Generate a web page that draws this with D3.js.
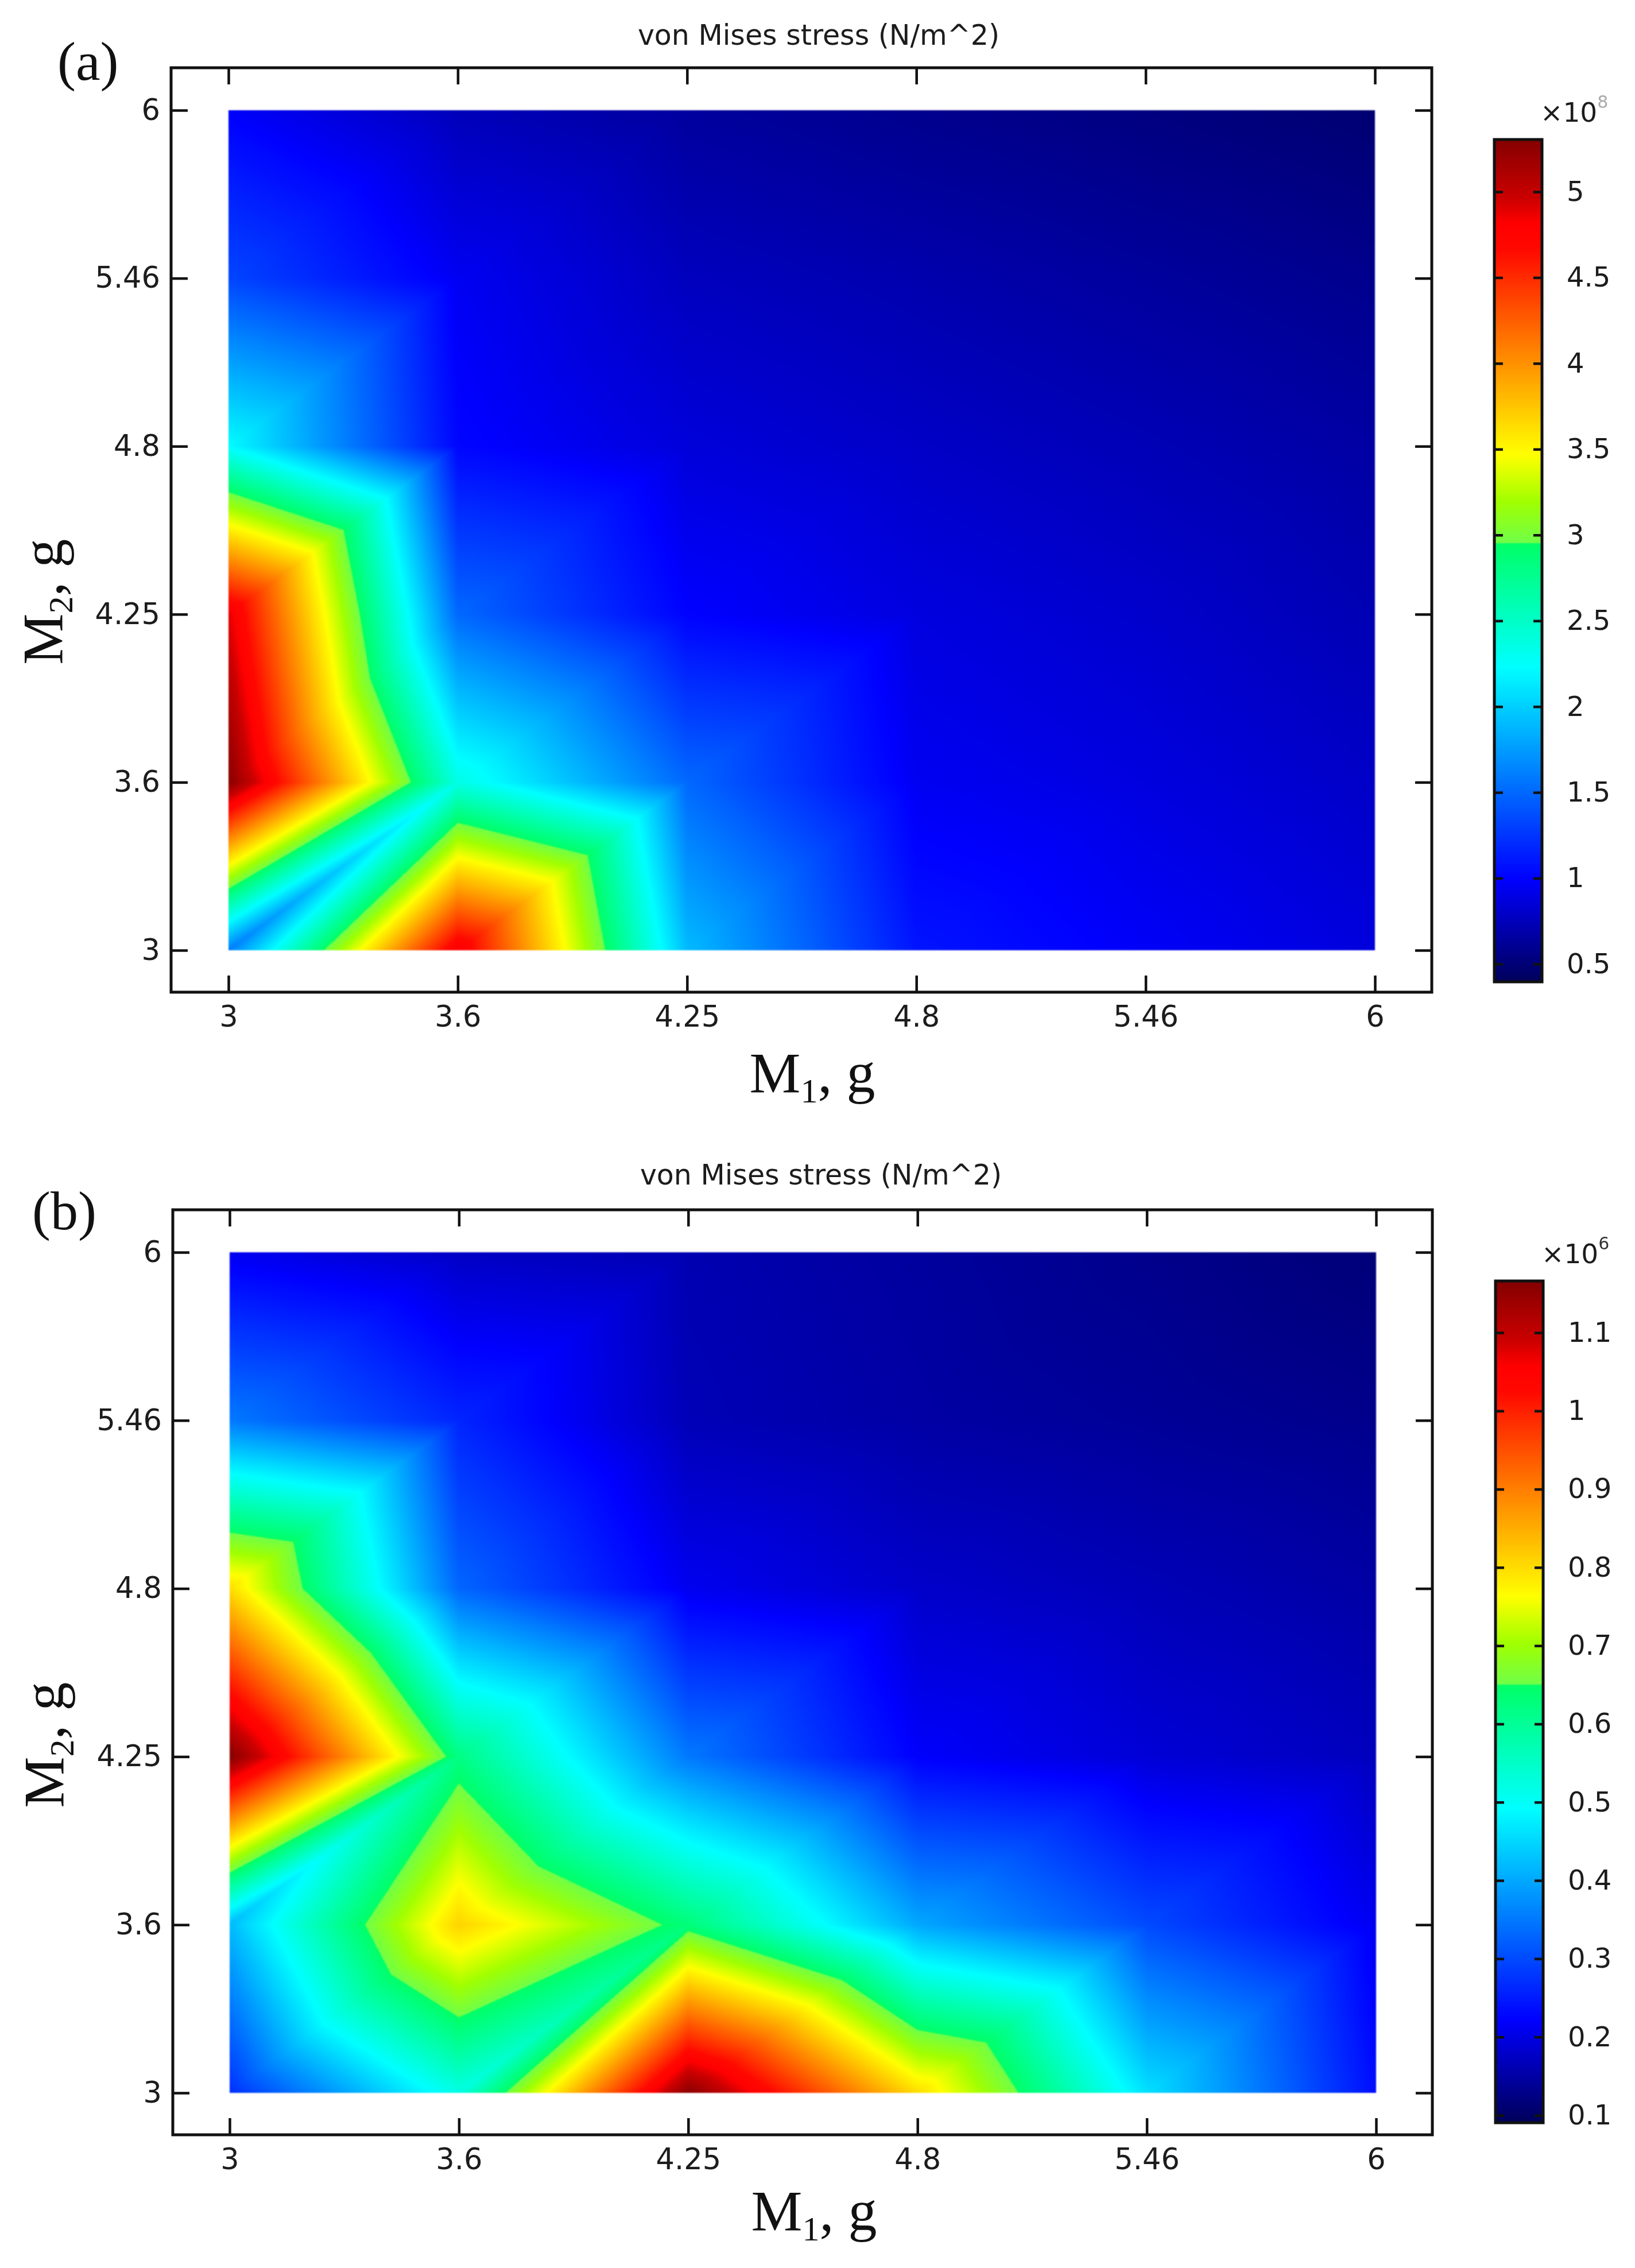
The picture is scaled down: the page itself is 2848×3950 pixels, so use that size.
<!DOCTYPE html>
<html>
<head>
<meta charset="utf-8">
<title>von Mises stress</title>
<script src="https://cdn.jsdelivr.net/npm/d3@7"></script>
<style>
  html, body { margin: 0; padding: 0; background: #fff; }
  #stage { position: relative; width: 2848px; height: 3950px; overflow: hidden; }
  canvas, svg { position: absolute; left: 0; top: 0; }
  canvas { filter: blur(1px); }
  svg { filter: blur(0.6px); }
  .tick text { font-family: "DejaVu Sans", sans-serif; font-size: 51px; fill: #1c1c1c; }
  .bar-axis .tick text { font-size: 48px; }
  .tick line { stroke: #111; stroke-width: 4.5px; }
</style>
</head>
<body>
<div id="stage">
  <canvas id="heat" width="2848" height="3950"></canvas>
  <svg id="chart" width="2848" height="3950"></svg>
</div>
<script>
const massLabels = ["3", "3.6", "4.25", "4.8", "5.46", "6"];
const chartTitle = "von Mises stress (N/m^2)";

// rows run from M2 = 3 up to M2 = 6, columns M1 = 3 to 6 (x 10^8)
const stressA = [
  [1.60, 4.85, 1.90, 1.09, 0.97, 0.87],
  [5.30, 2.35, 1.50, 0.95, 0.88, 0.79],
  [4.90, 1.50, 1.00, 0.88, 0.81, 0.72],
  [2.22, 1.02, 0.86, 0.79, 0.73, 0.66],
  [1.33, 0.95, 0.76, 0.70, 0.64, 0.58],
  [0.98, 0.74, 0.64, 0.58, 0.53, 0.48]
];

// same layout (x 10^6)
const stressB = [
  [0.27, 0.52, 1.16, 0.80, 0.46, 0.235],
  [0.42, 0.81, 0.63, 0.40, 0.30, 0.21],
  [1.165, 0.62, 0.35, 0.22, 0.19, 0.17],
  [0.80, 0.33, 0.21, 0.18, 0.165, 0.15],
  [0.35, 0.26, 0.165, 0.15, 0.14, 0.13],
  [0.21, 0.175, 0.16, 0.145, 0.13, 0.115]
];

const barTicksA = [5, 4.5, 4, 3.5, 3, 2.5, 2, 1.5, 1, 0.5];
const barTicksB = [1.1, 1, 0.9, 0.8, 0.7, 0.6, 0.5, 0.4, 0.3, 0.2, 0.1];

// rainbow colour table of the legend, it has a small step just under yellow-green
const rampStops = [0, 0.122, 0.374, 0.521, 0.5211, 0.57, 0.626, 0.87, 0.90, 0.93, 1];
const rampColors = ["#00005a", "#0000ff", "#00ffff", "#00ff66", "#70ff48", "#a0ff00", "#ffff00", "#ff0800", "#ff0000", "#cc0000", "#850000"];

const panels = [
  {
    values: stressA, letter: "(a)", exponent: "8", expColor: "#aaa", barDomain: [0.396, 5.304], barTicks: barTicksA,
    frame: { x0: 298, x1: 2494, y0: 118, y1: 1728 },
    heat: { x0: 398, x1: 2395, y0: 192, y1: 1655 },
    bar: { x0: 2603, x1: 2686, y0: 243, y1: 1710, zeroAt: 1679, oneAt: 334, from: 0.5, to: 5 },
    titleX: 1426, titleY: 78, letterX: 100, letterY: 139,
    xLabelX: 1415, xLabelY: 1902, yLabelX: 108, yLabelY: 1048, expY: 212
  },
  {
    values: stressB, letter: "(b)", exponent: "6", expColor: "#333", barDomain: [0.091, 1.1645], barTicks: barTicksB,
    frame: { x0: 301, x1: 2495, y0: 2107, y1: 3718 },
    heat: { x0: 400, x1: 2397, y0: 2181, y1: 3645 },
    bar: { x0: 2605, x1: 2688, y0: 2231, y1: 3697, zeroAt: 3684, oneAt: 2321, from: 0.1, to: 1.1 },
    titleX: 1430, titleY: 2063, letterX: 56, letterY: 2141,
    xLabelX: 1418, xLabelY: 3884, yLabelX: 110, yLabelY: 3039, expY: 2200
  }
];

const svg = d3.select("#chart");
const ctx = document.getElementById("heat").getContext("2d");
ctx.fillStyle = "#fff";
ctx.fillRect(0, 0, 2848, 3950);

const rampScale = d3.scaleLinear().domain(rampStops).range(rampColors).clamp(true);
const rampLut = d3.range(2048).map(i => d3.rgb(rampScale(i / 2047)));

const putPixels = (box, valueAt) => {
  const w = box.x1 - box.x0;
  const h = box.y1 - box.y0;
  const image = ctx.createImageData(w, h);
  let p = 0;
  for (let py = 0; py < h; py++) {
    for (let px = 0; px < w; px++) {
      const c = rampLut[valueAt(box.x0 + px + 0.5, box.y0 + py + 0.5)];
      image.data[p++] = c.r;
      image.data[p++] = c.g;
      image.data[p++] = c.b;
      image.data[p++] = 255;
    }
  }
  ctx.putImageData(image, box.x0, box.y0);
};

const drawPanel = (panel) => {
  const { frame, heat, bar, values } = panel;

  const x = d3.scalePoint().domain(massLabels).range([heat.x0, heat.x1]);
  const y = d3.scalePoint().domain(massLabels).range([heat.y1, heat.y0]);
  const last = massLabels.length - 2;
  const norm = d3.scaleLinear().domain(panel.barDomain).range([0, 2047]).clamp(true);

  // every grid cell is split along its rising diagonal, linear inside each triangle
  putPixels(heat, (px, py) => {
    const u = (px - x(massLabels[0])) / x.step();
    const v = (y(massLabels[0]) - py) / y.step();
    const i = Math.max(0, Math.min(last, Math.floor(u)));
    const j = Math.max(0, Math.min(last, Math.floor(v)));
    const fu = u - i;
    const fv = v - j;
    const a = values[j][i];
    const b = values[j][i + 1];
    const c = values[j + 1][i];
    const d = values[j + 1][i + 1];
    const val = fu >= fv
      ? a + fu * (b - a) + fv * (d - b)
      : a + fv * (c - a) + fu * (d - c);
    return Math.round(norm(val));
  });

  const barScale = d3.scaleLinear()
    .domain([bar.from, bar.to])
    .range([bar.zeroAt, bar.oneAt]);

  putPixels(bar, (_, py) => Math.round(norm(barScale.invert(py))));

  const g = svg.append("g");

  const addAxis = (axis, tx, ty) => {
    const a = g.append("g").attr("transform", `translate(${tx},${ty})`).call(axis);
    a.select(".domain").remove();
    return a;
  };

  const inward = 29;
  addAxis(d3.axisBottom(x).tickSizeInner(-inward).tickSizeOuter(0).tickPadding(24), 0, frame.y1);
  addAxis(d3.axisTop(x).tickSizeInner(-inward).tickSizeOuter(0).tickFormat(""), 0, frame.y0);
  addAxis(d3.axisLeft(y).tickSizeInner(-inward).tickSizeOuter(0).tickPadding(19), frame.x0, 0);
  addAxis(d3.axisRight(y).tickSizeInner(-inward).tickSizeOuter(0).tickFormat(""), frame.x1, 0);

  g.append("rect")
    .attr("x", frame.x0)
    .attr("y", frame.y0)
    .attr("width", frame.x1 - frame.x0)
    .attr("height", frame.y1 - frame.y0)
    .attr("fill", "none")
    .attr("stroke", "#111")
    .attr("stroke-width", 5);

  addAxis(
    d3.axisRight(barScale).tickValues(panel.barTicks).tickFormat(d => String(d)).tickSizeInner(-15).tickSizeOuter(0).tickPadding(43),
    bar.x1, 0
  ).attr("class", "bar-axis");
  addAxis(
    d3.axisLeft(barScale).tickValues(panel.barTicks).tickFormat("").tickSizeInner(-15).tickSizeOuter(0),
    bar.x0, 0
  );

  g.append("rect")
    .attr("x", bar.x0)
    .attr("y", bar.y0)
    .attr("width", bar.x1 - bar.x0)
    .attr("height", bar.y1 - bar.y0)
    .attr("fill", "none")
    .attr("stroke", "#111")
    .attr("stroke-width", 5);

  const exp = g.append("text")
    .attr("x", bar.x1 - 3)
    .attr("y", panel.expY)
    .style("font-family", "'DejaVu Sans', sans-serif")
    .style("font-size", "47px")
    .attr("fill", "#1c1c1c");
  exp.append("tspan").text("×10");
  exp.append("tspan")
    .attr("dy", -24)
    .style("font-size", "30px")
    .attr("fill", panel.expColor)
    .text(panel.exponent);

  g.append("text")
    .attr("x", panel.titleX)
    .attr("y", panel.titleY)
    .attr("text-anchor", "middle")
    .style("font-family", "'DejaVu Sans', sans-serif")
    .style("font-size", "49px")
    .attr("fill", "#1c1c1c")
    .text(chartTitle);

  g.append("text")
    .attr("x", panel.letterX)
    .attr("y", panel.letterY)
    .style("font-family", "'Liberation Serif', serif")
    .style("font-size", "96px")
    .attr("fill", "#111")
    .text(panel.letter);

  const massLabel = (el, sub) => {
    el.style("font-family", "'Liberation Serif', serif")
      .style("font-size", "100px")
      .attr("text-anchor", "middle")
      .attr("fill", "#111");
    el.append("tspan").text("M");
    el.append("tspan").attr("dy", 18).style("font-size", "60px").text(sub);
    el.append("tspan").attr("dy", -18).text(", g");
  };

  g.append("text")
    .attr("x", panel.xLabelX)
    .attr("y", panel.xLabelY)
    .call(massLabel, "1");

  g.append("text")
    .attr("transform", `translate(${panel.yLabelX},${panel.yLabelY}) rotate(-90)`)
    .call(massLabel, "2");
};

panels.forEach(drawPanel);
</script>
</body>
</html>
